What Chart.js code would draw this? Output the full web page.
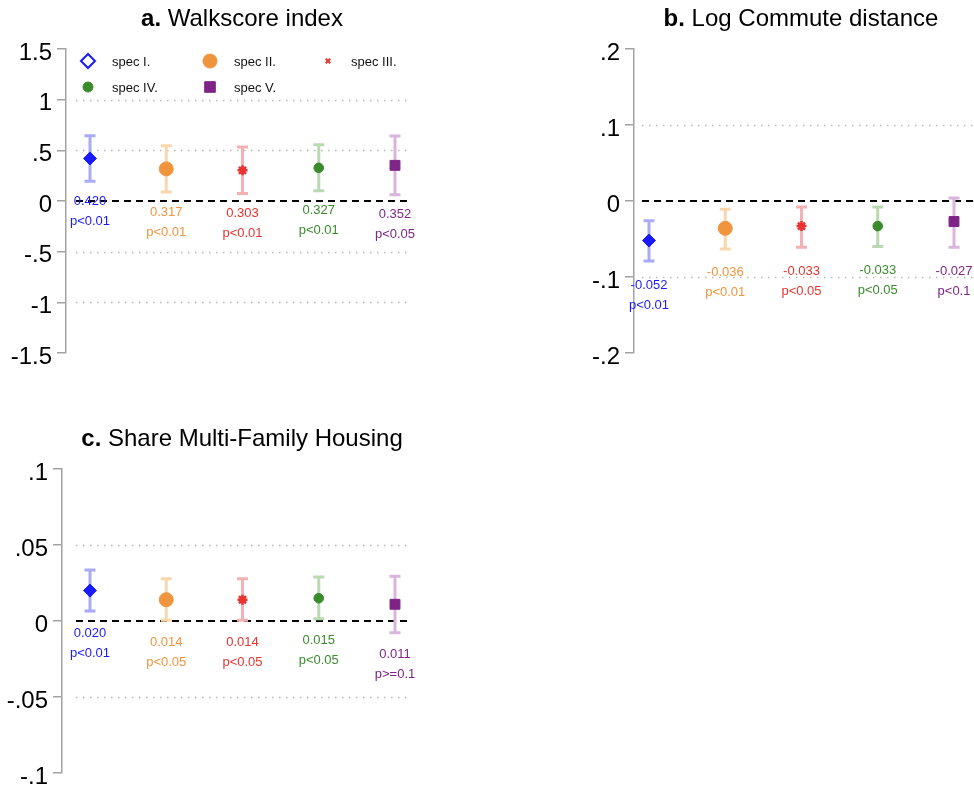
<!DOCTYPE html>
<html>
<head>
<meta charset="utf-8">
<script src="https://cdn.jsdelivr.net/npm/chart.js@4.4.0/dist/chart.umd.min.js"></script>
<style>
  html, body { margin: 0; padding: 0; background: #fff; }
  body { width: 974px; height: 788px; overflow: hidden; position: relative; }
  canvas { position: absolute; }
</style>
</head>
<body>
<canvas id="walk" width="470" height="380" style="left:0;top:0"></canvas>
<canvas id="commute" width="480" height="380" style="left:560px;top:0"></canvas>
<canvas id="multi" width="470" height="368" style="left:0;top:420px"></canvas>
<script>
// specifications (one marker per spec in every panel)
const specNames = ['spec I.', 'spec II.', 'spec III.', 'spec IV.', 'spec V.'];

// a. Walkscore index
const walkEst = [0.420, 0.317, 0.303, 0.327, 0.352];
const walkLo = [0.195, 0.089, 0.073, 0.100, 0.062];
const walkHi = [0.645, 0.545, 0.533, 0.554, 0.642];
const walkP = ['p<0.01', 'p<0.01', 'p<0.01', 'p<0.01', 'p<0.05'];
const walkTicks = [1.5, 1, 0.5, 0, -0.5, -1, -1.5];
const walkGrid = [1, 0.5, -0.5, -1];

// b. Log Commute distance
const commEst = [-0.052, -0.036, -0.033, -0.033, -0.027];
const commLo = [-0.079, -0.063, -0.061, -0.060, -0.061];
const commHi = [-0.026, -0.011, -0.008, -0.008, 0.004];
const commP = ['p<0.01', 'p<0.01', 'p<0.05', 'p<0.05', 'p<0.1'];
const commTicks = [0.2, 0.1, 0, -0.1, -0.2];
const commGrid = [0.1, -0.1];

// c. Share Multi-Family Housing
const multiEst = [0.020, 0.014, 0.014, 0.015, 0.011];
const multiLo = [0.0065, 0.0005, 0.0005, 0.0015, -0.0078];
const multiHi = [0.0335, 0.0278, 0.0278, 0.0290, 0.0295];
const multiP = ['p<0.01', 'p<0.05', 'p<0.05', 'p<0.05', 'p>=0.1'];
const multiTicks = [0.1, 0.05, 0, -0.05, -0.1];
const multiGrid = [0.05, -0.05];

const FONT = "'Liberation Sans', Arial, Helvetica, sans-serif";
const specColors = ['#1a1aff', '#f0953d', '#e8332f', '#3a8b2c', '#7e2487'];
const ciColors = ['#aaaaf7', '#f9d7ad', '#f3b1b1', '#bad9b3', '#d9b4dd'];
const markers = [
  { style: 'rectRot', radius: 6.5, border: 1 },
  { style: 'circle', radius: 7, border: 1 },
  { style: 'star', radius: 5, border: 2.5 },
  { style: 'circle', radius: 4.8, border: 1 },
  { style: 'rect', radius: 7, border: 1 }
];
const legendMarkers = [
  { style: 'rectRot', radius: 7, border: 2, hollow: true },
  { style: 'circle', radius: 7, border: 1 },
  { style: 'crossRot', radius: 3.2, border: 2 },
  { style: 'circle', radius: 5, border: 1 },
  { style: 'rect', radius: 7.5, border: 1 }
];

const fmtTick = v => String(v).replace(/^(-?)0\./, '$1.');

function decor(p) {
  return {
    id: 'decor',
    beforeDatasetsDraw(chart) {
      const { ctx, scales: { x, y } } = chart;
      ctx.save();
      // dotted reference lines
      ctx.strokeStyle = '#b8b8b8';
      ctx.lineWidth = 1.5;
      ctx.setLineDash([1.5, 5.5]);
      p.grid.forEach(v => {
        const py = Math.round(y.getPixelForValue(v)) + 0.5;
        ctx.beginPath(); ctx.moveTo(p.gridStart, py); ctx.lineTo(p.gridEnd, py); ctx.stroke();
      });
      // zero line
      ctx.strokeStyle = '#000';
      ctx.lineWidth = 2;
      ctx.setLineDash([7, 5]);
      const y0 = y.getPixelForValue(0);
      ctx.beginPath(); ctx.moveTo(p.gridStart, y0); ctx.lineTo(p.gridEnd + 3, y0); ctx.stroke();
      // confidence intervals
      ctx.setLineDash([]);
      ctx.lineWidth = 3;
      p.est.forEach((_, i) => {
        const px = x.getPixelForValue(i + 1);
        const yl = y.getPixelForValue(p.lo[i]);
        const yh = y.getPixelForValue(p.hi[i]);
        ctx.strokeStyle = ciColors[i];
        ctx.beginPath();
        ctx.moveTo(px, yl); ctx.lineTo(px, yh);
        ctx.moveTo(px - 5.5, yl); ctx.lineTo(px + 5.5, yl);
        ctx.moveTo(px - 5.5, yh); ctx.lineTo(px + 5.5, yh);
        ctx.stroke();
      });
      ctx.restore();
    },
    afterDatasetsDraw(chart) {
      const { ctx, scales: { x, y } } = chart;
      ctx.save();
      // y tick labels (Stata style: no leading zero, sitting a bit below the tick)
      ctx.font = `24px ${FONT}`;
      ctx.fillStyle = '#000';
      ctx.textAlign = 'right';
      ctx.textBaseline = 'middle';
      y.ticks.forEach(t => {
        ctx.fillText(fmtTick(t.value), y.right - 14, y.getPixelForValue(t.value) + 4);
      });
      // coefficient and p-value labels
      ctx.font = `13px ${FONT}`;
      ctx.textAlign = 'center';
      p.est.forEach((v, i) => {
        const px = x.getPixelForValue(i + 1);
        const ly = y.getPixelForValue(p.lo[i]) + p.labelGap;
        ctx.fillStyle = specColors[i];
        ctx.fillText(v.toFixed(3), px, ly);
        ctx.fillText(p.pvals[i], px, ly + 20);
      });
      // panel title: bold letter + regular text
      ctx.textAlign = 'left';
      ctx.textBaseline = 'alphabetic';
      ctx.fillStyle = '#000';
      ctx.font = `bold 24px ${FONT}`;
      const w1 = ctx.measureText(p.tag + ' ').width;
      ctx.font = `24px ${FONT}`;
      const w2 = ctx.measureText(p.title).width;
      const tx = p.titleX - (w1 + w2) / 2;
      ctx.font = `bold 24px ${FONT}`;
      ctx.fillText(p.tag + ' ', tx, 26);
      ctx.font = `24px ${FONT}`;
      ctx.fillText(p.title, tx + w1, 26);
      // legend (panel a only)
      if (p.legend) {
        const markX = [88, 210, 328], textX = [112, 234, 351], rowY = [61, 87];
        ctx.font = `13px ${FONT}`;
        ctx.textBaseline = 'middle';
        specNames.forEach((name, i) => {
          const c = i % 3, r = Math.floor(i / 3);
          const m = legendMarkers[i];
          ctx.fillStyle = m.hollow ? '#fff' : specColors[i];
          ctx.strokeStyle = specColors[i];
          ctx.lineWidth = m.border;
          Chart.helpers.drawPoint(ctx, { pointStyle: m.style, radius: m.radius, borderWidth: m.border, rotation: 0 }, markX[c], rowY[r]);
          ctx.fillStyle = '#111';
          ctx.fillText(name, textX[c], rowY[r] + 1);
        });
      }
      ctx.restore();
    }
  };
}

function makePanel(id, p) {
  const canvas = document.getElementById(id);
  const W = canvas.width, H = canvas.height;
  const perUnit = (p.lastPx - p.firstPx) / 4;
  const xMin = 1 - (p.firstPx - p.left) / perUnit;
  const xMax = xMin + (p.right - p.left) / perUnit;
  const tickVals = p.ticks.slice().sort((a, b) => a - b);
  return new Chart(canvas, {
    type: 'scatter',
    data: {
      datasets: specNames.map((name, i) => ({
        label: name,
        data: [{ x: i + 1, y: p.est[i] }],
        pointStyle: markers[i].style,
        pointRadius: markers[i].radius,
        pointHoverRadius: markers[i].radius,
        pointBorderWidth: markers[i].border,
        backgroundColor: specColors[i],
        borderColor: specColors[i]
      }))
    },
    options: {
      responsive: false,
      animation: false,
      events: [],
      layout: { padding: { top: p.top, bottom: H - p.bottom, left: 0, right: W - p.right } },
      scales: {
        x: { type: 'linear', display: false, min: xMin, max: xMax },
        y: {
          min: tickVals[0],
          max: tickVals[tickVals.length - 1],
          afterBuildTicks: s => { s.ticks = tickVals.map(v => ({ value: v })); },
          afterFit: s => { s.width = p.left; },
          border: { color: '#a3a3a3', width: 1.5 },
          grid: { drawOnChartArea: false, drawTicks: true, tickLength: 9, color: '#a3a3a3', lineWidth: 1.5 },
          ticks: { display: false }
        }
      },
      plugins: { legend: { display: false }, tooltip: { enabled: false } }
    },
    plugins: [decor(p)]
  });
}

makePanel('walk', {
  est: walkEst, lo: walkLo, hi: walkHi, pvals: walkP, ticks: walkTicks, grid: walkGrid,
  tag: 'a.', title: 'Walkscore index', titleX: 242, legend: true,
  left: 66, right: 420, top: 49, bottom: 353, firstPx: 90, lastPx: 395,
  gridStart: 76, gridEnd: 408, labelGap: 20
});
makePanel('commute', {
  est: commEst, lo: commLo, hi: commHi, pvals: commP, ticks: commTicks, grid: commGrid,
  tag: 'b.', title: 'Log Commute distance', titleX: 241, legend: false,
  left: 74, right: 470, top: 49, bottom: 353, firstPx: 89, lastPx: 394,
  gridStart: 82, gridEnd: 460, labelGap: 24
});
makePanel('multi', {
  est: multiEst, lo: multiLo, hi: multiHi, pvals: multiP, ticks: multiTicks, grid: multiGrid,
  tag: 'c.', title: 'Share Multi-Family Housing', titleX: 242, legend: false,
  left: 62, right: 420, top: 49, bottom: 353, firstPx: 90, lastPx: 395,
  gridStart: 76, gridEnd: 408, labelGap: 22
});
</script>
</body>
</html>
